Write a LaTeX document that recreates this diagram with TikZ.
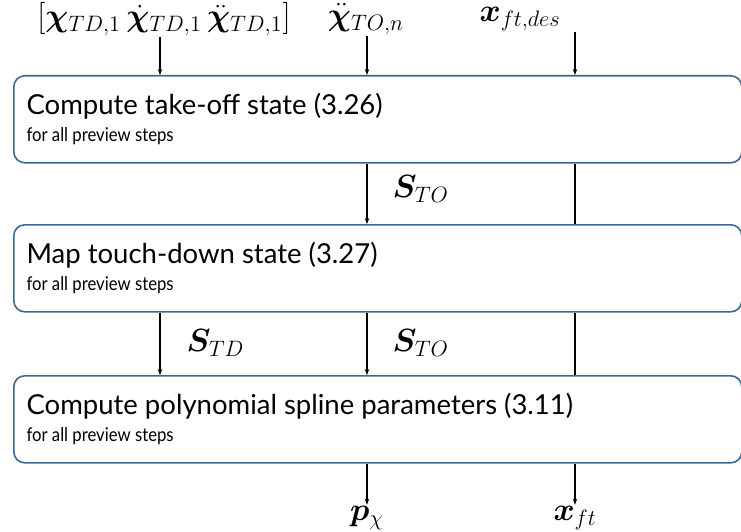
\documentclass[tikz,border=0pt]{standalone}
\usepackage{amsmath,amssymb,bm}
\usepackage{fontspec}
\setmainfont{Lato}
\newfontfamily\narrowsans{Lato}[FakeStretch=0.88]
\usepackage{tikz}
\usetikzlibrary{arrows.meta,calc,positioning}
\definecolor{boxc}{RGB}{62,104,148}
\newcommand{\bigsig}[1]{\scalebox{1.55}{$#1$}}
\tikzset{
  blockbox/.style={draw=boxc,line width=1.6pt,rounded corners=11pt,minimum width=728pt,minimum height=87pt,anchor=north west,inner sep=0pt},
  headtxt/.style={anchor=base west,inner sep=0pt,font=\fontsize{27.5}{32}\selectfont},
  subtxt/.style={anchor=base west,inner sep=0pt,font=\narrowsans\fontsize{19}{22}\selectfont},
  sig/.style={inner sep=1pt,font=\fontsize{20}{24}\selectfont},
}

\begin{document}
\begin{tikzpicture}[x=1pt,y=-1pt,>={Stealth[length=6pt,width=4.5pt]},line width=1.1pt]
  \useasboundingbox (0,0) rectangle (741,532);
  \coordinate (colL) at (160,0); \coordinate (colM) at (367,0); \coordinate (colR) at (575,0);
  % blocks
  \node[blockbox] (takeoff) at (13,75) {};
  \node[headtxt] (takeoffH) at ($(takeoff.north west)+(13,39)$) {Compute take-off state (3.26)};
  \node[subtxt] (takeoffS) at ($(takeoff.north west)+(13,66)$) {for all preview steps};
  \node[blockbox] (touchdown) at (13,224) {};
  \node[headtxt] (touchdownH) at ($(touchdown.north west)+(13,39)$) {Map touch-down state (3.27)};
  \node[subtxt] (touchdownS) at ($(touchdown.north west)+(13,66)$) {for all preview steps};
  \node[blockbox] (spline) at (13,375) {};
  \node[headtxt] (splineH) at ($(spline.north west)+(13,39)$) {Compute polynomial spline parameters (3.11)};
  \node[subtxt] (splineS) at ($(spline.north west)+(13,66)$) {for all preview steps};
  % inputs
  \node[sig] (inState) at (164,19) {\bigsig{[\bm{\chi}_{TD,1}\,\dot{\bm{\chi}}_{TD,1}\,\ddot{\bm{\chi}}_{TD,1}]}};
  \node[sig] (inAcc) at (366,19) {\bigsig{\ddot{\bm{\chi}}_{TO,n}}};
  \node[sig] (inFoot) at (520,19) {\bigsig{\bm{x}_{ft,des}}};
  \draw[->] (colL |- inState.south) -- (colL |- takeoff.north);
  \draw[->] (colM |- inAcc.south) -- (colM |- takeoff.north);
  \draw[->] (colR |- inFoot.south) -- (colR |- takeoff.north);
  % take-off -> touch-down
  \draw[->] (colM |- takeoff.south) -- (colM |- touchdown.north);
  \draw (colR |- takeoff.south) -- (colR |- touchdown.north);
  \node[sig,anchor=west] (sTOa) at (391,189) {\bigsig{\bm{S}_{TO}}};
  % touch-down -> spline
  \draw[->] (colL |- touchdown.south) -- (colL |- spline.north);
  \draw[->] (colM |- touchdown.south) -- (colM |- spline.north);
  \draw (colR |- touchdown.south) -- (colR |- spline.north);
  \node[sig,anchor=west] (sTD) at (185,343) {\bigsig{\bm{S}_{TD}}};
  \node[sig,anchor=west] (sTOb) at (391,343) {\bigsig{\bm{S}_{TO}}};
  % outputs
  \node[sig] (outP) at (367,518) {\bigsig{\bm{p}_{\chi}}};
  \node[sig] (outX) at (575,518) {\bigsig{\bm{x}_{ft}}};
  \draw[->] (colM |- spline.south) -- (colM |- outP.north);
  \draw[->] (colR |- spline.south) -- (colR |- outX.north);
\end{tikzpicture}
\end{document}
